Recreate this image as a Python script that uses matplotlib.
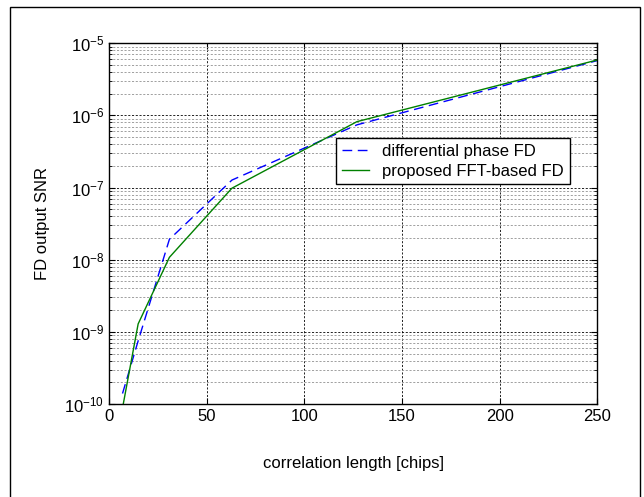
import numpy as np
import matplotlib
matplotlib.use('Agg')
import matplotlib.pyplot as plt
from matplotlib.patches import Rectangle

# dane
dlugosc = [7, 15, 31, 63, 127, 255]
snr_diff = [1.4e-10, 7.5e-10, 1.92e-8, 1.27e-7, 7.4e-7, 6.25e-6]
snr_fft = [0.88e-10, 1.29e-9, 1.08e-8, 0.98e-7, 8.2e-7, 6.35e-6]

x_ticks = [0, 50, 100, 150, 200, 250]

plt.rcParams['font.family'] = ['Liberation Sans', 'DejaVu Sans']
plt.rcParams['font.size'] = 12

fig = plt.figure(figsize=(6.44, 4.97), dpi=100)
ax = fig.add_axes([0.169, 0.187, 0.7585, 0.726])

ax.semilogy(dlugosc, snr_diff, color='blue', linestyle=(0, (7, 4)), linewidth=1.0,
            label='differential phase FD')
ax.semilogy(dlugosc, snr_fft, color=(0, 0.5, 0), linewidth=1.0,
            label='proposed FFT-based FD')

ax.set_xlim(0, 250)
ax.set_ylim(1e-10, 1e-5)
ax.set_xticks(x_ticks)

ax.grid(True, which='major', color='black', linestyle=(0, (2.5, 2)), linewidth=0.6)
ax.grid(True, which='minor', color='#909090', linestyle=(0, (2.5, 2)), linewidth=0.6)

ax.tick_params(which='both', direction='in', top=True, right=True)
ax.tick_params(which='major', length=4)
ax.tick_params(which='minor', length=2)
for s in ax.spines.values():
    s.set_linewidth(1.0)

ax.set_xlabel('correlation length [chips]', labelpad=23)
ax.set_ylabel('FD output SNR', labelpad=10)

leg = ax.legend(loc='upper left', bbox_to_anchor=(0.466, 0.738), fancybox=False,
                edgecolor='black', framealpha=1, handlelength=1.6,
                borderpad=0.35, labelspacing=0.3, borderaxespad=0)
leg.get_frame().set_linewidth(1.0)

# ramka wokol calego rysunku
fig.patches.append(Rectangle((10 / 644, -0.02), 630 / 644, 1.02 - 7 / 497,
                             transform=fig.transFigure, fill=False,
                             edgecolor='black', linewidth=1.0))

fig.savefig('out.png', dpi=100)
